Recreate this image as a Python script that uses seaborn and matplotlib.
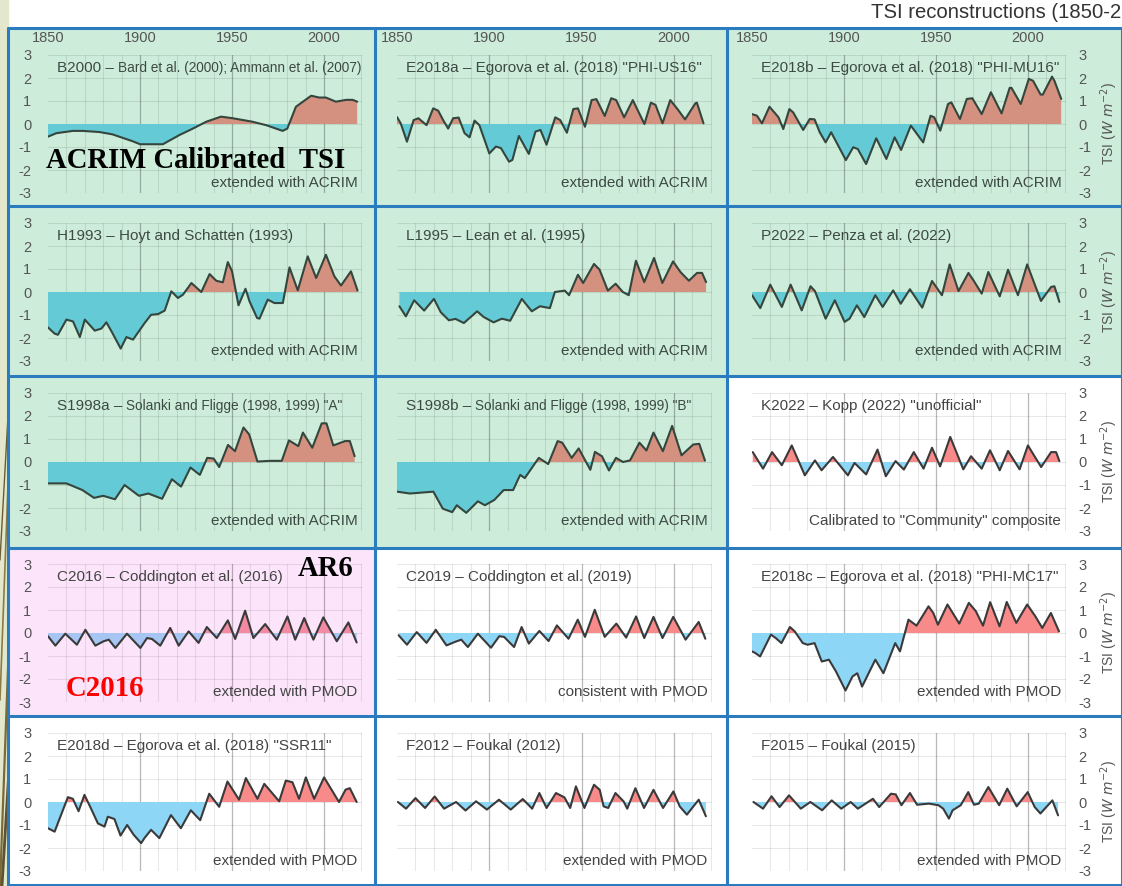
import numpy as np
import matplotlib
matplotlib.use("Agg")
import matplotlib.pyplot as plt
from matplotlib.patches import Rectangle
from matplotlib.lines import Line2D
import seaborn as sns

# ---------------------------------------------------------------- data
# TSI anomalies (W m-2), read at the turning points of each reconstruction
b2000_years = [1850, 1854.5, 1863.5, 1869, 1878, 1885, 1896, 1900, 1912.4, 1921.4, 1928.7, 1936, 1944, 1950.4,
               1961, 1968.5, 1977.5, 1980, 1984.7, 1993, 1997.4, 2001, 2006.4, 2012, 2015.5, 2018]
b2000_tsi = [-0.55, -0.4, -0.3, -0.3, -0.35, -0.45, -0.75, -0.88, -0.88, -0.48, -0.2, 0.1, 0.32, 0.25,
             0.1, -0.05, -0.3, -0.2, 0.75, 1.23, 1.15, 1.15, 0.97, 1.05, 1.05, 0.97]

e2018a_years = [1850, 1852, 1855.4, 1859, 1861.6, 1866, 1869.6, 1872.3, 1875, 1877.7, 1880.4, 1883.4, 1886.6,
                1889.3, 1892, 1894.6, 1900, 1903.6, 1906.3, 1910.7, 1912.5, 1916, 1921.4, 1925, 1927.7, 1931,
                1935.7, 1938.4, 1942, 1945.5, 1948, 1951.8, 1955.4, 1958, 1962.5, 1966, 1968.7, 1973, 1977.7,
                1984, 1987.5, 1990, 1993.8, 1998, 2002, 2006, 2011.6, 2012.4, 2016]
e2018a_tsi = [0.3, 0.03, -0.77, 0.17, 0.25, -0.05, 0.68, 0.58, 0.17, -0.2, 0.25, 0.28, -0.4,
              -0.58, 0.15, -0.05, -1.28, -0.98, -1.05, -1.64, -1.56, -0.52, -1.3, -0.33, -0.26, -0.9,
              0.29, 0.17, -0.38, 0.65, 0.68, -0.12, 1.04, 1.08, 0.35, 1.12, 1.04, 0.29, 1.04,
              0.0, 0.93, 0.83, 0.03, 1.04, 0.64, 0.2, 0.9, 0.93, 0.03]

e2018b_years = [1850, 1852.7, 1855.4, 1859.5, 1862.6, 1864.4, 1867, 1870.3, 1872.4, 1877.8, 1881.4, 1884,
                1886.8, 1890, 1893, 1901, 1905, 1907.5, 1912, 1917.5, 1923, 1927.5, 1931, 1936.3, 1943, 1947,
                1949, 1952.3, 1956.5, 1958.3, 1963, 1966.7, 1969.7, 1974.8, 1979.8, 1985.6, 1990, 1991, 1996,
                2000.4, 2002.7, 2006.8, 2008, 2013, 2014.3, 2018]
e2018b_tsi = [0.43, 0.36, 0.03, 0.75, 0.46, 0.29, -0.22, 0.65, 0.5, -0.26, 0.22, 0.2,
              -0.36, -0.8, -0.36, -1.57, -1.01, -1.09, -1.74, -0.62, -1.52, -0.58, -1.13, -0.07, -0.8, 0.36,
              0.29, -0.29, 0.87, 0.94, 0.22, 1.09, 1.12, 0.43, 1.38, 0.46, 1.57, 1.57, 0.87,
              1.96, 1.88, 1.28, 1.28, 2.06, 1.88, 1.09]

h1993_years = [1850, 1853.6, 1855.4, 1860, 1863.6, 1867.3, 1870, 1875.4, 1879, 1881.7, 1884.5, 1889.5, 1892.6,
               1896.2, 1902.5, 1906, 1909.8, 1913.4, 1917, 1920.6, 1923.3, 1927.9, 1933.3, 1937.8, 1941.4, 1945,
               1947.7, 1950, 1953.5, 1957.3, 1959.5, 1963.6, 1964.9, 1969.4, 1973, 1977.6, 1981.2, 1985.7,
               1991.1, 1995.7, 2001, 2005.6, 2009.2, 2014.6, 2018.2]
h1993_tsi = [-1.54, -1.81, -1.86, -1.2, -1.28, -1.96, -1.2, -1.68, -1.59, -1.32, -1.71, -2.46, -1.96,
             -2.07, -1.35, -0.99, -0.96, -0.81, 0.03, -0.26, -0.12, 0.39, 0.0, 0.78, 0.49, 0.42,
             1.3, 0.9, -0.58, 0.14, -0.41, -1.13, -1.16, -0.33, -0.48, -0.48, 1.07, 0.07,
             1.55, 0.61, 1.62, 0.68, 0.28, 0.9, 0.06]

l1995_years = [1851.3, 1854.8, 1859.3, 1864.7, 1870, 1873.7, 1878.1, 1881.7, 1886.2, 1893.4, 1897, 1902.3,
               1906.8, 1911.3, 1917.6, 1923, 1927.4, 1932.8, 1935.5, 1940.9, 1943.2, 1948, 1950.8, 1956.7,
               1959.7, 1964.2, 1968.4, 1972.3, 1975.5, 1979.4, 1983.9, 1989.2, 1993.7, 1999.5, 2003.6,
               2008.1, 2012.5, 2015.2, 2017.4]
l1995_tsi = [-0.62, -1.06, -0.36, -0.81, -0.3, -0.88, -1.23, -1.17, -1.35, -0.84, -1.09, -1.32,
             -1.16, -1.25, -0.3, -0.84, -0.62, -0.7, 0.0, 0.06, -0.14, 0.75, 0.39, 1.22,
             0.97, 0.06, 0.36, 0.0, -0.14, 1.36, 0.43, 1.48, 0.39, 1.33, 0.86,
             0.49, 0.83, 0.83, 0.43]

p2022_years = [1850, 1854.5, 1859.9, 1866.2, 1871, 1877, 1881.8, 1884.2, 1890, 1895, 1900.3, 1903, 1907, 1911,
               1917, 1921, 1926.7, 1930.8, 1935.8, 1942.5, 1947.8, 1953.2, 1957.4, 1962.2, 1967.6, 1970.3,
               1974.8, 1978.4, 1984.6, 1989.1, 1994.5, 1999.5, 2007, 2012.5, 2014.3, 2017]
p2022_tsi = [-0.14, -0.7, 0.32, -0.65, 0.32, -0.8, 0.25, 0.04, -1.16, -0.36, -1.3, -1.16, -0.58, -1.09,
             -0.14, -0.65, 0.07, -0.51, 0.12, -0.68, 0.48, -0.14, 1.2, 0.04, 0.83, 0.51,
             -0.07, 0.87, -0.19, 0.97, -0.14, 1.2, -0.39, 0.22, 0.25, -0.43]

s1998a_years = [1850, 1860, 1868.7, 1875, 1880, 1886.4, 1891.6, 1899.4, 1904.5, 1912, 1917.3, 1922.3, 1927.4,
                1932.5, 1936.5, 1940, 1943, 1947.8, 1951.6, 1956.2, 1959.3, 1963.8, 1970.7, 1977, 1980.9,
                1986, 1988.5, 1993.6, 1998.7, 2001.3, 2005, 2011.4, 2014, 2016.6]
s1998a_tsi = [-0.93, -0.93, -1.22, -1.56, -1.47, -1.62, -1.0, -1.47, -1.37, -1.6, -0.75, -1.07, -0.24,
              -0.56, 0.18, 0.15, -0.22, 0.74, 0.47, 1.5, 1.2, 0.02, 0.05, 0.05, 0.94,
              0.69, 1.28, 0.62, 1.68, 1.68, 0.72, 0.91, 0.91, 0.25]

s1998b_years = [1850, 1857, 1869.7, 1874.8, 1879.9, 1882.4, 1887.5, 1893.8, 1897.6, 1902.7, 1907.8, 1912.9,
                1916.7, 1919.2, 1926.8, 1931.9, 1937, 1939.5, 1944.6, 1948.4, 1954.7, 1957.2, 1961, 1964.8,
                1968.6, 1972.4, 1976.2, 1981.3, 1985.1, 1988.9, 1994, 1999, 2004.1, 2010.4, 2013.7, 2016.8]
s1998b_tsi = [-1.29, -1.37, -1.29, -2.03, -2.18, -1.88, -2.21, -1.71, -1.88, -1.65, -1.22, -1.22,
              -0.56, -0.7, 0.18, -0.09, 0.91, 0.84, 0.18, 0.59, -0.34, 0.44, 0.25, -0.37,
              0.18, 0.0, 0.07, 0.84, 0.5, 1.28, 0.47, 1.57, 0.29, 0.76, 0.79, 0.06]

k2022_years = [1850.4, 1856, 1860.9, 1866.2, 1871.6, 1878.7, 1884.2, 1887.8, 1894, 1902.1, 1905.7, 1912,
               1918.2, 1922.7, 1928, 1932.5, 1937.9, 1943.2, 1947.8, 1952.2, 1957.7, 1964.8, 1969, 1974.8,
               1979.3, 1984.6, 1989.1, 1995.4, 1999.9, 2007.1, 2012.5, 2015.2, 2017]
k2022_tsi = [0.43, -0.29, 0.43, -0.14, 0.72, -0.58, 0.07, -0.36, 0.22, -0.58, -0.04, -0.54,
             0.54, -0.62, 0.04, -0.33, 0.43, -0.29, 0.62, -0.19, 1.09, -0.32, 0.25, -0.29,
             0.51, -0.36, 0.48, -0.32, 0.72, -0.22, 0.43, 0.43, 0.04]

c2016_years = [1850, 1854, 1859.4, 1865.7, 1870.3, 1875.7, 1880.2, 1883, 1886.6, 1892.9, 1900.2, 1903.8,
               1906.5, 1911, 1916.4, 1921, 1926.4, 1931.8, 1936.3, 1941.7, 1947.7, 1951.7, 1957.1, 1961.6,
               1968, 1974.3, 1980.1, 1984.3, 1989.2, 1994.2, 1999.6, 2006.9, 2013.2, 2017.7]
c2016_tsi = [-0.14, -0.55, -0.03, -0.51, 0.14, -0.55, -0.36, -0.29, -0.65, -0.03, -0.65, -0.22,
             -0.26, -0.55, 0.22, -0.55, 0.07, -0.43, 0.26, -0.22, 0.55, -0.26, 0.97, -0.22,
             0.39, -0.29, 0.72, -0.29, 0.65, -0.29, 0.68, -0.36, 0.46, -0.41]

c2019_years = [1850.9, 1855.4, 1860.7, 1866, 1871, 1876.8, 1881.3, 1884.8, 1888.4, 1893.8, 1900.9, 1905.4,
               1908, 1913.4, 1917.5, 1921.4, 1927.1, 1932.1, 1936.6, 1942.9, 1947.9, 1951.8, 1957.1, 1962.5,
               1968.8, 1974.1, 1979.5, 1983.9, 1988.9, 1993.8, 1999.6, 2006.3, 2013.4, 2017]
c2019_tsi = [-0.1, -0.51, 0.04, -0.43, 0.14, -0.54, -0.39, -0.29, -0.61, -0.03, -0.64, -0.14,
             -0.17, -0.61, 0.26, -0.46, 0.09, -0.35, 0.33, -0.25, 0.58, -0.17, 1.01, -0.17,
             0.41, -0.2, 0.72, -0.22, 0.7, -0.22, 0.7, -0.29, 0.48, -0.25]

e2018c_years = [1850, 1851.8, 1854.4, 1860.3, 1862.9, 1866, 1870.6, 1873.2, 1877.6, 1880.2, 1884, 1887.9,
                1891.8, 1895.6, 1900.8, 1904.6, 1907.2, 1909.8, 1917, 1921.4, 1927.8, 1930.4, 1935, 1939.4,
                1945.9, 1948.5, 1951, 1956.2, 1962.6, 1967.8, 1971.6, 1975.5, 1979.4, 1984.5, 1988.4,
                1993.6, 1999.5, 2003.9, 2007.7, 2012.4, 2016.8]
e2018c_tsi = [-0.8, -0.87, -1.02, -0.07, -0.22, -0.44, 0.26, 0.07, -0.44, -0.51, -0.44, -1.24,
              -1.16, -1.67, -2.5, -1.89, -1.75, -2.33, -1.16, -1.75, -0.44, -0.8, 0.58, 0.32,
              1.16, 0.87, 0.36, 1.24, 0.41, 1.31, 0.95, 0.32, 1.34, 0.29, 1.35,
              0.44, 1.24, 0.73, 0.22, 0.87, 0.07]

e2018d_years = [1850, 1853.6, 1860.8, 1863.5, 1866.6, 1869.8, 1873.4, 1877.1, 1880.7, 1882.5, 1886.1, 1889.4,
                1893, 1896.6, 1900.6, 1902.4, 1906, 1910.5, 1916.8, 1922.2, 1927.6, 1932.7, 1937.6, 1943,
                1947.5, 1953.8, 1957.5, 1963.8, 1967.5, 1975.6, 1979.2, 1982.8, 1986.4, 1990.1, 1994.6,
                2000, 2008.1, 2011.7, 2014, 2017.7]
e2018d_tsi = [-1.14, -1.29, 0.21, 0.14, -0.4, 0.31, -0.29, -0.93, -1.07, -0.64, -0.74, -1.46,
              -1.0, -1.43, -1.79, -1.57, -1.21, -1.57, -0.57, -1.14, -0.36, -0.79, 0.36, -0.21,
              0.89, 0.1, 1.04, 0.14, 0.79, 0.03, 0.93, 0.86, 0.14, 1.07, 0.14,
              1.07, 0.0, 0.54, 0.6, 0.0]

f2012_years = [1850.5, 1854.9, 1860, 1865.2, 1870.4, 1875.5, 1882, 1887.1, 1892.8, 1898.7, 1905.2, 1911.6,
               1918.1, 1923.2, 1927.1, 1931, 1936.1, 1940.7, 1943.8, 1946.9, 1951.5, 1956.7, 1959.8, 1961.9,
               1964.4, 1968.3, 1972.7, 1974.7, 1979.1, 1983.8, 1988.9, 1994.1, 1999.7, 2003.1, 2007,
               2013.4, 2017.3]
f2012_tsi = [0.0, -0.29, 0.17, -0.26, 0.24, -0.29, 0.0, -0.37, 0.03, -0.33, 0.1, -0.33,
             0.13, -0.29, 0.39, -0.26, 0.39, 0.2, -0.26, 0.68, -0.26, 0.75, 0.53, -0.19,
             -0.26, 0.39, 0.03, -0.29, 0.6, -0.26, 0.53, -0.26, 0.46, -0.19, -0.55,
             0.1, -0.62]

f2015_years = [1850.8, 1856, 1860.6, 1865, 1870.1, 1876.5, 1881.7, 1888.1, 1893.3, 1898.5, 1903.6, 1907.5,
               1915.7, 1919.1, 1925.5, 1928.1, 1931.2, 1935.8, 1939.7, 1946.1, 1951.3, 1953.9, 1957, 1959,
               1963.4, 1967.5, 1970.6, 1973.2, 1978.4, 1984.3, 1988.7, 1993.8, 1999.8, 2003.6, 2006.7,
               2013.2, 2016.3]
f2015_tsi = [0.0, -0.29, 0.25, -0.22, 0.29, -0.29, 0.0, -0.36, 0.07, -0.29, 0.0, -0.29,
             0.14, -0.22, 0.36, 0.33, -0.14, 0.39, -0.12, -0.07, -0.14, -0.29, -0.72, -0.36,
             -0.14, 0.43, -0.12, -0.07, 0.65, -0.14, 0.58, -0.19, 0.43, -0.22, -0.5,
             0.07, -0.58]

panel_titles = [
    ("B2000 \u2013 ", "Bard et al. (2000); Ammann et al. (2007)"),
    ("E2018a \u2013 Egorova et al. (2018) \"PHI-US16\"", None),
    ("E2018b \u2013 Egorova et al. (2018) \"PHI-MU16\"", None),
    ("H1993 \u2013 Hoyt and Schatten (1993)", None),
    ("L1995 \u2013 Lean et al. (1995)", None),
    ("P2022 \u2013 Penza et al. (2022)", None),
    ("S1998a \u2013 ", "Solanki and Fligge (1998, 1999) \"A\""),
    ("S1998b \u2013 ", "Solanki and Fligge (1998, 1999) \"B\""),
    ("K2022 \u2013 Kopp (2022) \"unofficial\"", None),
    ("C2016 \u2013 Coddington et al. (2016)", None),
    ("C2019 \u2013 Coddington et al. (2019)", None),
    ("E2018c \u2013 Egorova et al. (2018) \"PHI-MC17\"", None),
    ("E2018d \u2013 Egorova et al. (2018) \"SSR11\"", None),
    ("F2012 \u2013 Foukal (2012)", None),
    ("F2015 \u2013 Foukal (2015)", None),
]
panel_notes = ["extended with ACRIM"] * 8 + ["Calibrated to \"Community\" composite",
               "extended with PMOD", "consistent with PMOD", "extended with PMOD",
               "extended with PMOD", "extended with PMOD", "extended with PMOD"]
panel_series = [(b2000_years, b2000_tsi), (e2018a_years, e2018a_tsi), (e2018b_years, e2018b_tsi),
                (h1993_years, h1993_tsi), (l1995_years, l1995_tsi), (p2022_years, p2022_tsi),
                (s1998a_years, s1998a_tsi), (s1998b_years, s1998b_tsi), (k2022_years, k2022_tsi),
                (c2016_years, c2016_tsi), (c2019_years, c2019_tsi), (e2018c_years, e2018c_tsi),
                (e2018d_years, e2018d_tsi), (f2012_years, f2012_tsi), (f2015_years, f2015_tsi)]
# background theme per panel: g = ACRIM group, p = AR6 choice, w = other
panel_theme = ["g", "g", "g", "g", "g", "g", "g", "g", "w", "p", "w", "w", "w", "w", "w"]

year_ticks = [1850, 1900, 1950, 2000]
tsi_ticks = [-3, -2, -1, 0, 1, 2, 3]

# ---------------------------------------------------------------- style
sns.set_theme(style="white")
plt.rcParams["font.family"] = ["Liberation Sans", "DejaVu Sans"]
plt.rcParams["axes.unicode_minus"] = False

THEMES = {
    "g": dict(bg="#cdedda", pos="#d4917f", neg="#64cbd6", line="#34463d", text="#3d4a44"),
    "w": dict(bg="#ffffff", pos="#f98a8a", neg="#8dd6f6", line="#3a3a3a", text="#444444"),
    "p": dict(bg="#fce5fb", pos="#f28aa3", neg="#a7c5f3", line="#3a3a3a", text="#444444"),
}
BORDER = "#2b7bbf"
TICK_C = "#555555"

W, H = 1122, 886
fig = plt.figure(figsize=(W / 100, H / 100), dpi=100)


def fx(px):
    return px / W


def fy(py):
    return 1 - py / H


# slide background strip on the left
fig.patches.append(Rectangle((0, 0), fx(8), 1, transform=fig.transFigure,
                             color="#e3e8cc", zorder=-3))
for (x0, y0, x1, y1, c, lw) in [(0, 886, 12, 560, "#7a6a3a", 1.6), (0, 700, 12, 378, "#8c7b48", 1.2),
                                (2, 886, 12, 720, "#5f5230", 2.0), (0, 560, 10, 380, "#6b5c33", 1.0)]:
    fig.lines.append(Line2D([fx(x0), fx(x1)], [fy(y0), fy(y1)], transform=fig.transFigure,
                            color=c, lw=lw, zorder=-2))

col_edges = [8, 375, 727, 1122]
row_edges = [28, 206, 376, 548, 716, 885]
col_axes = [(48, 362), (397, 712), (752, 1066)]
row_axes = [(55, 193), (223, 361), (393, 531), (564, 702), (733, 871)]

for i in range(15):
    r, c = divmod(i, 3)
    th = THEMES[panel_theme[i]]
    x0, x1 = col_edges[c], col_edges[c + 1]
    y0, y1 = row_edges[r], row_edges[r + 1]
    fig.patches.append(Rectangle((fx(x0), fy(y1)), fx(x1 - x0), (y1 - y0) / H,
                                 transform=fig.transFigure, facecolor=th["bg"],
                                 edgecolor="none", zorder=-1))

    ax0, ax1 = col_axes[c]
    ay0, ay1 = row_axes[r]
    ax = fig.add_axes([fx(ax0), fy(ay1), fx(ax1 - ax0), (ay1 - ay0) / H])
    ax.set_facecolor("none")
    for s in ax.spines.values():
        s.set_visible(False)

    years = np.array(panel_series[i][0], dtype=float)
    tsi = np.array(panel_series[i][1], dtype=float)
    ax.fill_between(years, tsi, 0, where=tsi >= 0, interpolate=True, color=th["pos"], lw=0, zorder=2)
    ax.fill_between(years, tsi, 0, where=tsi <= 0, interpolate=True, color=th["neg"], lw=0, zorder=2)
    sns.lineplot(x=years, y=tsi, ax=ax, color=th["line"], lw=1.5, sort=False, zorder=3)

    ax.set_xlim(1850, 2020.6)
    ax.set_ylim(-3, 3)
    ax.set_xticks(year_ticks)
    ax.set_xticks(range(1850, 2021, 10), minor=True)
    ax.set_yticks(tsi_ticks)
    ax.xaxis.grid(False, which="major")
    ax.xaxis.grid(True, which="minor", color="#000000", alpha=0.09, lw=0.8)
    ax.yaxis.grid(True, which="major", color="#000000", alpha=0.09, lw=0.8)
    for yr in year_ticks[1:]:
        ax.axvline(yr, color="#000000", alpha=0.28, lw=0.9, zorder=1)
    ax.set_axisbelow(True)
    ax.set_xlabel("")
    ax.set_ylabel("")

    ax.tick_params(axis="both", which="both", length=0, colors=TICK_C, labelsize=10.5)
    ax.tick_params(axis="x", labelbottom=False, labeltop=(r == 0), pad=7)
    if c == 0:
        ax.tick_params(axis="y", labelleft=True, labelright=False, pad=12)
    elif c == 2:
        ax.tick_params(axis="y", labelleft=False, labelright=True, pad=9)
        ax.yaxis.set_label_position("right")
        ax.set_ylabel("TSI ($W\\ m^{-2}$)", color=TICK_C, fontsize=10, labelpad=5)
    else:
        ax.tick_params(axis="y", labelleft=False, labelright=False)

    main, small = panel_titles[i]
    t = ax.text(0.028, 0.905, main, transform=ax.transAxes, ha="left", va="center",
                fontsize=11, color=th["text"], zorder=5)
    if small:
        ax.annotate(small, xy=(1, 0.5), xycoords=t, ha="left", va="center",
                    fontsize=9.8, color=th["text"], zorder=5)
    ax.text(0.985, 0.072, panel_notes[i], transform=ax.transAxes, ha="right", va="center",
            fontsize=11, color=th["text"], zorder=5)

# panel borders
for xe in col_edges:
    fig.lines.append(Line2D([fx(xe), fx(xe)], [fy(row_edges[0]), fy(row_edges[-1])],
                            transform=fig.transFigure, color=BORDER, lw=2.2, zorder=10))
for ye in row_edges:
    fig.lines.append(Line2D([fx(col_edges[0]), fx(col_edges[-1])], [fy(ye), fy(ye)],
                            transform=fig.transFigure, color=BORDER, lw=2.2, zorder=10))

# slide heading (the visible part of it, flush with the right edge)
fig.text(fx(1121), fy(12), "TSI reconstructions (1850-2", ha="right", va="center",
         fontsize=14.6, color="#333333")

# highlight labels
serif = ["Liberation Serif", "DejaVu Serif"]
fig.text(fx(46), fy(160), "ACRIM Calibrated  TSI", ha="left", va="center", fontsize=20.6,
         fontweight="bold", family=serif, color="black", zorder=20)
fig.text(fx(353), fy(569), "AR6", ha="right", va="center", fontsize=20.6,
         fontweight="bold", family=serif, color="black", zorder=20)
fig.text(fx(66), fy(688), "C2016", ha="left", va="center", fontsize=20.8,
         fontweight="bold", family=serif, color="#ff0000", zorder=20)

fig.savefig("out.png", dpi=100)
